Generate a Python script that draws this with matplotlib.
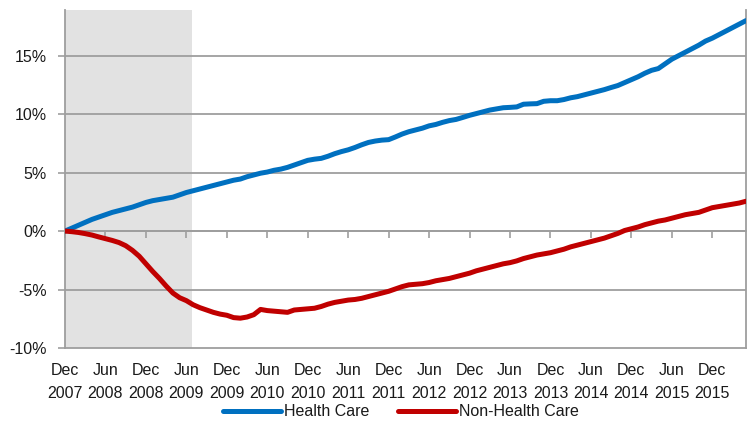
import numpy as np
import matplotlib
matplotlib.use("Agg")
import matplotlib.pyplot as plt

# ----------------------------
# Data: cumulative job growth since Dec 2007 (%), monthly Dec 2007 - May 2016
# ----------------------------
health_care = [
    0.0, 0.25, 0.5, 0.75, 1.0, 1.2, 1.4, 1.6, 1.75, 1.9,
    2.05, 2.25, 2.45, 2.6, 2.7, 2.8, 2.9, 3.1, 3.3, 3.45,
    3.6, 3.75, 3.9, 4.05, 4.2, 4.35, 4.45, 4.65, 4.8, 4.95,
    5.05, 5.2, 5.3, 5.45, 5.65, 5.85, 6.05, 6.15, 6.22, 6.4,
    6.62, 6.8, 6.95, 7.15, 7.38, 7.58, 7.7, 7.78, 7.82, 8.05,
    8.3, 8.5, 8.65, 8.8, 9.0, 9.12, 9.3, 9.45, 9.55, 9.72,
    9.9, 10.05, 10.2, 10.35, 10.45, 10.55, 10.58, 10.62, 10.85, 10.88,
    10.9, 11.1, 11.15, 11.15, 11.25, 11.4, 11.5, 11.65, 11.8, 11.95,
    12.1, 12.28, 12.45, 12.7, 12.95, 13.2, 13.5, 13.75, 13.9, 14.3,
    14.7, 15.0, 15.3, 15.6, 15.9, 16.25, 16.5, 16.8, 17.1, 17.4,
    17.7, 18.0,
]
non_health_care = [
    0.0, -0.05, -0.12, -0.22, -0.34, -0.5, -0.65, -0.8, -0.98, -1.25,
    -1.65, -2.15, -2.8, -3.45, -4.05, -4.7, -5.3, -5.7, -5.95, -6.3,
    -6.55, -6.75, -6.95, -7.1, -7.2, -7.4, -7.45, -7.35, -7.15, -6.7,
    -6.8, -6.85, -6.9, -6.95, -6.75, -6.7, -6.65, -6.6, -6.45, -6.25,
    -6.1, -6.0, -5.9, -5.85, -5.75, -5.6, -5.45, -5.3, -5.15, -4.95,
    -4.75, -4.6, -4.55, -4.5, -4.4, -4.25, -4.15, -4.05, -3.9, -3.75,
    -3.6, -3.4, -3.25, -3.1, -2.95, -2.8, -2.7, -2.55, -2.35, -2.2,
    -2.05, -1.95, -1.85, -1.7, -1.55, -1.35, -1.2, -1.05, -0.9, -0.75,
    -0.6, -0.4, -0.2, 0.05, 0.2, 0.35, 0.55, 0.7, 0.85, 0.95,
    1.1, 1.25, 1.4, 1.5, 1.6, 1.8, 2.0, 2.1, 2.2, 2.3,
    2.4, 2.55,
]
tick_labels = [
    "Dec\n2007", "Jun\n2008", "Dec\n2008", "Jun\n2009", "Dec\n2009",
    "Jun\n2010", "Dec\n2010", "Jun\n2011", "Dec\n2011", "Jun\n2012",
    "Dec\n2012", "Jun\n2013", "Dec\n2013", "Jun\n2014", "Dec\n2014",
    "Jun\n2015", "Dec\n2015",
]
recession = (0, 18.9)  # months after Dec 2007 (Dec 2007 - Jun 2009)

plt.rcParams["font.family"] = ["Liberation Sans", "DejaVu Sans"]

months = np.arange(len(health_care))
ymin, ymax = -10, 18.9
grid_c = "#9e9e9e"
text_c = "#1a1a1a"

fig = plt.figure(figsize=(7.51, 4.21), dpi=100)
ax = fig.add_axes([0.0866, 0.1734, 0.9067, 0.8026])

ax.axvspan(*recession, color="#e2e2e2", zorder=0, lw=0)
for v in range(-5, 20, 5):
    ax.axhline(v, color=grid_c, lw=1.3, zorder=1)

ax.plot(months, health_care, color="#0070c0", lw=3.6, solid_capstyle="round",
        label="Health Care", zorder=3)
ax.plot(months, non_health_care, color="#c00000", lw=3.6, solid_capstyle="round",
        label="Non-Health Care", zorder=3)

ax.set_xlim(0, months[-1])
ax.set_ylim(ymin, ymax)

ax.set_yticks(range(-10, 20, 5))
ax.set_yticklabels([f"{v}%" for v in range(-10, 20, 5)], fontsize=11.5, color=text_c)
ax.tick_params(axis="y", direction="out", length=5, width=1.2, color=grid_c, pad=8)

ax.set_xticks(np.arange(0, 97, 6))
ax.set_xticklabels(tick_labels, fontsize=11.5, color=text_c, linespacing=1.65)
ax.tick_params(axis="x", length=0, pad=11)

for side in ["left", "right", "bottom"]:
    ax.spines[side].set_color(grid_c)
    ax.spines[side].set_linewidth(1.3)
ax.spines["top"].set_visible(False)

# zero line with hanging tick marks
sec = ax.secondary_xaxis((0 - ymin) / (ymax - ymin))
sec.set_xticks(np.arange(0, 97, 6))
sec.set_xticklabels([])
sec.tick_params(direction="out", length=5, width=1.2, color=grid_c)
sec.spines["bottom"].set_color(grid_c)
sec.spines["bottom"].set_linewidth(1.3)

fig.legend(loc="center", bbox_to_anchor=(0.534, 0.022), ncol=2, frameon=False,
           fontsize=11.5, handlelength=3.6, columnspacing=1.8, handletextpad=0.2,
           labelcolor=text_c)

fig.savefig("out.png", dpi=100)
